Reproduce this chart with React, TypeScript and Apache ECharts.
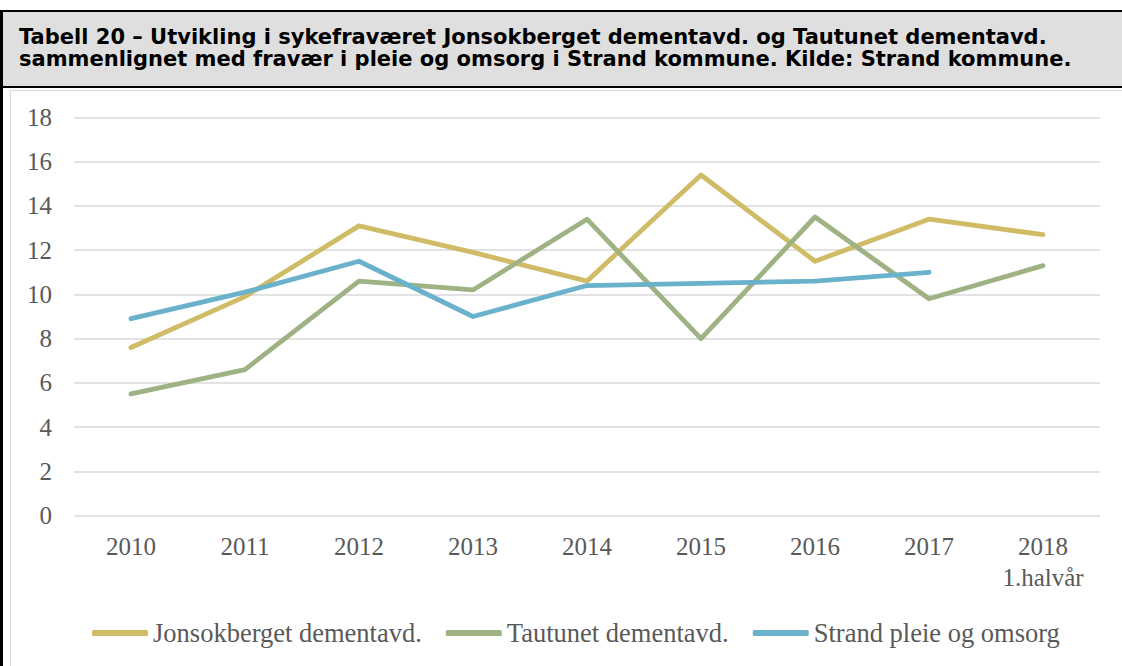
import React, { useEffect, useRef } from "react";
import * as echarts from "echarts";

const titleLines = [
  "Tabell 20 – Utvikling i sykefraværet Jonsokberget dementavd. og Tautunet dementavd.",
  "sammenlignet med fravær i pleie og omsorg i Strand kommune. Kilde: Strand kommune.",
];
const categories = ["2010", "2011", "2012", "2013", "2014", "2015", "2016", "2017", "2018\n1.halvår"];
const seriesNames = ["Jonsokberget dementavd.", "Tautunet dementavd.", "Strand pleie og omsorg"];
const jonsokberget = [7.6, 9.9, 13.1, 11.9, 10.6, 15.4, 11.5, 13.4, 12.7];
const tautunet = [5.5, 6.6, 10.6, 10.2, 13.4, 8.0, 13.5, 9.8, 11.3];
const strand = [8.9, 10.1, 11.5, 9.0, 10.4, 10.5, 10.6, 11.0, null];
const colors = ["#D0BB66", "#9EB283", "#6AB2CC"];

export default function App() {
  const ref = useRef<HTMLDivElement>(null);
  useEffect(() => {
    if (!ref.current) return;
    const chart = echarts.init(ref.current, null, { renderer: "svg" });
    const serif = "'Liberation Serif', 'Times New Roman', serif";
    const sans = "'DejaVu Sans', Verdana, sans-serif";
    const labelColor = "#595959";
    const titleSize = 21;
    const mk = (name: string, data: (number | null)[], color: string) => ({
      name,
      type: "line",
      data,
      symbol: "none",
      connectNulls: false,
      lineStyle: { color, width: 4.8, cap: "round", join: "round" },
      itemStyle: { color },
    });
    chart.setOption({
      animation: false,
      backgroundColor: "#ffffff",
      color: colors,
      grid: { left: 74, right: 22, top: 117.5, bottom: 150.5, containLabel: false },
      xAxis: {
        type: "category",
        data: categories,
        boundaryGap: true,
        axisLine: { show: false },
        axisTick: { show: false },
        axisLabel: {
          color: labelColor,
          fontFamily: serif,
          fontSize: 25,
          lineHeight: 31,
          margin: 15,
          interval: 0,
        },
      },
      yAxis: {
        type: "value",
        min: 0,
        max: 18,
        interval: 2,
        axisLine: { show: false },
        axisTick: { show: false },
        splitLine: { lineStyle: { color: "#d9d9d9", width: 1.5 } },
        axisLabel: {
          color: labelColor,
          fontFamily: serif,
          fontSize: 25,
          margin: 22,
        },
      },
      legend: {
        data: seriesNames,
        left: 87,
        top: 612,
        itemWidth: 56,
        itemHeight: 6,
        itemGap: 24,
        icon: "roundRect",
        textStyle: {
          color: labelColor,
          fontFamily: serif,
          fontSize: 26.5,
          lineHeight: 32,
        },
      },
      series: [
        mk(seriesNames[0], jonsokberget, colors[0]),
        mk(seriesNames[1], tautunet, colors[1]),
        mk(seriesNames[2], strand, colors[2]),
      ],
      graphic: [
        { type: "rect", z: -10, shape: { x: 0, y: 10, width: 1122, height: 78 }, style: { fill: "#dfdfdf" } },
        { type: "rect", shape: { x: 0, y: 10, width: 1122, height: 2 }, style: { fill: "#000000" } },
        { type: "rect", shape: { x: 0, y: 86, width: 1122, height: 2 }, style: { fill: "#000000" } },
        { type: "rect", shape: { x: 0, y: 10, width: 3, height: 660 }, style: { fill: "#000000" } },
        {
          type: "rect",
          z: -10,
          shape: { x: 10.5, y: 90.5, width: 1200, height: 700 },
          style: { fill: "none", stroke: "#d9d9d9", lineWidth: 1 },
        },
        {
          type: "text",
          x: 19,
          y: 44 - titleSize * 0.35,
          style: {
            text: titleLines[0],
            fontFamily: sans,
            fontWeight: "bold",
            fontSize: titleSize,
            fill: "#000000",
            verticalAlign: "middle",
          },
        },
        {
          type: "text",
          x: 19,
          y: 66 - titleSize * 0.35,
          style: {
            text: titleLines[1],
            fontFamily: sans,
            fontWeight: "bold",
            fontSize: titleSize,
            fill: "#000000",
            verticalAlign: "middle",
          },
        },
      ],
    });
    return () => chart.dispose();
  }, []);
  return (
    <div
      ref={ref}
      style={{ position: "fixed", left: 0, top: 0, width: 1122, height: 666, background: "#fff" }}
    />
  );
}
